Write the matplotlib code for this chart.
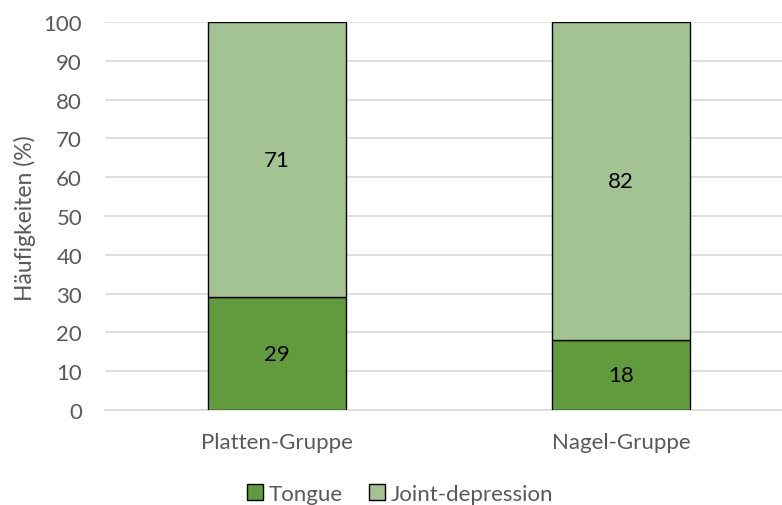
import matplotlib.pyplot as plt
import numpy as np

groups = ["Platten-Gruppe", "Nagel-Gruppe"]
tongue = [29, 18]
joint_depression = [71, 82]
series_names = ["Tongue", "Joint-depression"]

DARK = "#629B3D"
LIGHT = "#A3C492"
GRID = "#D9D9D9"
TEXT = "#595959"

plt.rcParams["font.family"] = ["Lato", "DejaVu Sans"]

fig = plt.figure(figsize=(7.82, 5.06), dpi=100)
# plot area runs slightly past the right edge of the canvas
ax = fig.add_axes([105 / 782, 95 / 506, 688 / 782, 388 / 506])

x = np.arange(len(groups))
width = 0.4
b1 = ax.bar(x, tongue, width, color=DARK, edgecolor="black", linewidth=1.0,
            label=series_names[0], zorder=3)
b2 = ax.bar(x, joint_depression, width, bottom=tongue, color=LIGHT,
            edgecolor="black", linewidth=1.0, label=series_names[1], zorder=3)

for bars in (b1, b2):
    for rect in bars:
        h = rect.get_height()
        ax.text(rect.get_x() + rect.get_width() / 2, rect.get_y() + h / 2,
                f"{h:g}", ha="center", va="center", fontsize=16, color="black",
                zorder=4)

ax.set_xlim(-0.5, 1.5)
ax.set_ylim(0, 100)
ax.set_yticks(np.arange(0, 101, 10))
ax.yaxis.grid(True, color=GRID, linewidth=1.2, zorder=0)
ax.set_axisbelow(True)
for side in ("top", "right", "left"):
    ax.spines[side].set_visible(False)
ax.spines["bottom"].set_color(GRID)
ax.spines["bottom"].set_linewidth(1.2)
ax.tick_params(axis="both", length=0, colors=TEXT, labelsize=16)
ax.tick_params(axis="x", pad=16)
ax.tick_params(axis="y", pad=16.5)
ax.set_xticks(x)
ax.set_xticklabels(groups)

fig.text(25 / 782, 1 - 218 / 506, "Häufigkeiten (%)", rotation=90,
         ha="center", va="center", fontsize=16.5, color=TEXT)

fig.legend(handles=[b1, b2], labels=series_names, loc="center",
           bbox_to_anchor=(400 / 782, 1 - 495 / 506), ncol=2, frameon=False,
           fontsize=16, labelcolor=TEXT, handlelength=0.7, handleheight=0.7,
           handletextpad=0.25, columnspacing=1.2)

fig.savefig("out.png", dpi=100)
